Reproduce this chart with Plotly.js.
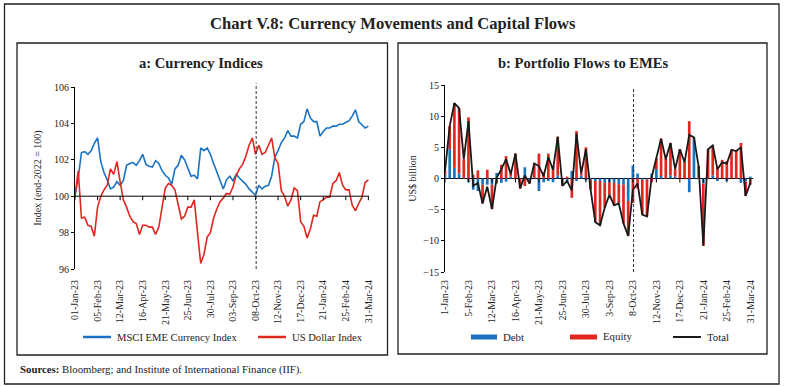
<!DOCTYPE html>
<html><head><meta charset="utf-8">
<script src="https://cdn.plot.ly/plotly-3.0.1.min.js"></script>
<style>html,body{margin:0;padding:0;background:#fff}#chart{width:785px;height:387px}</style>
</head><body><div id="chart"></div>
<script>
// ---------- Panel a: currency indices (end-2022 = 100) ----------
const fxDates = ['2023-01-01','2023-01-06','2023-01-11','2023-01-16','2023-01-21','2023-01-26','2023-01-31',
 '2023-02-05','2023-02-10','2023-02-15','2023-02-20','2023-02-25','2023-03-02','2023-03-07','2023-03-12',
 '2023-03-17','2023-03-22','2023-03-27','2023-04-01','2023-04-06','2023-04-11','2023-04-16','2023-04-21',
 '2023-04-26','2023-05-01','2023-05-06','2023-05-11','2023-05-16','2023-05-21','2023-05-26','2023-05-31',
 '2023-06-05','2023-06-10','2023-06-15','2023-06-20','2023-06-25','2023-06-30','2023-07-05','2023-07-10',
 '2023-07-15','2023-07-20','2023-07-25','2023-07-30','2023-08-04','2023-08-09','2023-08-14','2023-08-19',
 '2023-08-24','2023-08-29','2023-09-03','2023-09-08','2023-09-13','2023-09-18','2023-09-23','2023-09-28',
 '2023-10-03','2023-10-08','2023-10-13','2023-10-18','2023-10-23','2023-10-28','2023-11-02','2023-11-07',
 '2023-11-12','2023-11-17','2023-11-22','2023-11-27','2023-12-02','2023-12-07','2023-12-12','2023-12-17',
 '2023-12-22','2023-12-27','2024-01-01','2024-01-06','2024-01-11','2024-01-16','2024-01-21','2024-01-26',
 '2024-01-31','2024-02-05','2024-02-10','2024-02-15','2024-02-20','2024-02-25','2024-03-01','2024-03-06',
 '2024-03-11','2024-03-16','2024-03-21','2024-03-26','2024-03-31'];
const msciEme = [100.0,101.0,102.4,102.45,102.3,102.5,102.9,103.2,101.9,101.3,100.9,100.4,100.5,100.8,100.6,
 100.85,101.7,101.8,101.85,101.7,101.95,102.3,101.75,101.65,101.6,101.95,101.8,101.4,101.15,101.0,100.65,
 101.5,101.7,102.25,102.0,101.55,101.1,101.15,100.95,102.65,102.5,102.65,102.3,101.8,101.3,100.8,100.4,
 100.9,101.1,100.85,101.2,101.0,100.85,100.65,100.4,100.2,100.05,100.6,100.4,100.55,100.6,101.1,102.15,
 102.5,102.95,103.2,103.6,103.3,103.3,103.2,103.95,104.1,104.8,104.3,104.1,104.1,103.3,103.55,103.75,
 103.75,103.85,103.85,103.95,103.95,104.05,104.15,104.4,104.75,104.1,103.9,103.75,103.85];
const usDollar = [100.0,101.4,98.8,98.85,98.4,98.35,97.8,99.4,100.0,100.35,100.6,101.5,101.2,101.9,100.8,
 99.8,99.4,98.9,98.6,98.5,97.9,98.4,98.4,98.3,98.3,97.9,98.3,99.4,100.45,100.7,100.6,100.35,99.6,98.75,
 98.9,99.4,99.4,99.8,98.0,96.3,96.8,97.75,98.0,98.8,99.3,99.7,99.9,100.15,100.1,100.5,101.15,101.5,101.75,
 102.2,102.8,103.2,102.3,102.8,102.3,102.4,102.8,103.2,102.1,101.8,100.3,100.0,99.45,99.8,100.45,100.3,
 98.6,98.35,97.7,98.2,98.95,98.9,99.7,99.8,99.95,99.95,100.7,100.85,101.3,100.6,100.35,100.35,99.5,99.2,
 99.6,99.95,100.75,100.9];
const tickDates = ['2023-01-01','2023-02-05','2023-03-12','2023-04-16','2023-05-21','2023-06-25','2023-07-30',
 '2023-09-03','2023-10-08','2023-11-12','2023-12-17','2024-01-21','2024-02-25','2024-03-31'];
const fxTickText = ['01-Jan-23','05-Feb-23','12-Mar-23','16-Apr-23','21-May-23','25-Jun-23','30-Jul-23',
 '03-Sep-23','08-Oct-23','12-Nov-23','17-Dec-23','21-Jan-24','25-Feb-24','31-Mar-24'];

// ---------- Panel b: weekly portfolio flows to EMEs (US$ billion) ----------
const flowWeeks = ['2023-01-01','2023-01-08','2023-01-15','2023-01-22','2023-01-29','2023-02-05','2023-02-12',
 '2023-02-19','2023-02-26','2023-03-05','2023-03-12','2023-03-19','2023-03-26','2023-04-02','2023-04-09',
 '2023-04-16','2023-04-23','2023-04-30','2023-05-07','2023-05-14','2023-05-21','2023-05-28','2023-06-04',
 '2023-06-11','2023-06-18','2023-06-25','2023-07-02','2023-07-09','2023-07-16','2023-07-23','2023-07-30',
 '2023-08-06','2023-08-13','2023-08-20','2023-08-27','2023-09-03','2023-09-10','2023-09-17','2023-09-24',
 '2023-10-01','2023-10-08','2023-10-15','2023-10-22','2023-10-29','2023-11-05','2023-11-12','2023-11-19',
 '2023-11-26','2023-12-03','2023-12-10','2023-12-17','2023-12-24','2023-12-31','2024-01-07','2024-01-14',
 '2024-01-21','2024-01-28','2024-02-04','2024-02-11','2024-02-18','2024-02-25','2024-03-03','2024-03-10',
 '2024-03-17','2024-03-24','2024-03-31'];
const debtFlows = [0.6,4.7,1.7,0.8,0.1,-0.6,-1.8,-2.0,-1.0,-1.0,-1.0,0.9,-0.7,-0.5,0.3,0.0,-0.1,1.8,-0.3,0.1,
 -2.0,-0.6,-0.4,-0.6,0.5,-0.3,-0.7,1.2,-0.4,0.5,-0.3,-0.2,-0.4,-0.4,-0.7,-0.6,-0.7,-0.9,-1.0,-3.6,2.1,0.8,
 -0.2,-0.2,0.8,1.5,0.4,-0.1,0.5,0.3,0.0,0.0,-2.2,6.3,-0.1,-0.8,0.0,0.5,-0.4,0.0,-0.4,0.0,-0.1,-0.7,-0.5,0.3];
const equityFlows = [0.6,3.7,10.4,10.5,3.0,9.8,0.6,1.3,-3.0,1.4,-3.9,-0.8,2.2,3.6,0.5,4.0,-1.5,-1.2,-0.5,2.4,
 4.0,1.0,4.0,2.0,6.2,-0.9,0.3,-3.1,7.6,0.3,5.0,-1.6,-6.6,-7.1,-4.0,-2.0,-3.6,-3.1,-6.2,-5.6,-3.9,-1.6,-5.6,
 -5.9,-0.6,1.8,6.0,3.2,5.2,1.2,4.7,2.7,9.2,0.3,2.0,-10.0,4.7,4.8,1.9,3.0,2.8,4.6,4.5,5.7,-2.3,-1.0];
const totalFlows = [1.2,8.4,12.1,11.3,3.1,9.2,-1.2,-0.7,-4.0,-1.3,-4.9,0.1,1.5,3.1,0.7,4.0,-1.6,0.5,-0.8,2.4,
 2.0,0.4,3.4,1.4,6.7,-1.2,-0.4,-1.9,7.2,0.8,4.7,-1.8,-7.0,-7.5,-4.7,-2.6,-4.3,-4.0,-7.2,-9.2,-1.8,-0.8,-5.8,
 -6.1,0.2,3.3,6.4,3.1,5.7,1.5,4.7,2.6,7.0,6.6,1.9,-10.8,4.7,5.3,1.5,2.6,2.4,4.6,4.4,5.0,-2.8,-0.7];
const flowTickText = ['1-Jan-23','5-Feb-23','12-Mar-23','16-Apr-23','21-May-23','25-Jun-23','30-Jul-23',
 '3-Sep-23','8-Oct-23','12-Nov-23','17-Dec-23','21-Jan-24','25-Feb-24','31-Mar-24'];
const eventDate = '2023-10-09';

// ---------- styling ----------
const W = 785, H = 387;
const FONT = 'Liberation Serif, DejaVu Serif, serif';
const BLUE = '#1A72C0', RED = '#E0261E', INK = '#222';
const px = v => v / W, py = v => 1 - v / H;
const DAY = 86400000;

const traces = [
  {x: fxDates, y: msciEme, type: 'scatter', mode: 'lines', name: 'MSCI EME Currency Index',
   line: {color: BLUE, width: 1.6}, xaxis: 'x', yaxis: 'y', showlegend: false, hoverinfo: 'skip'},
  {x: fxDates, y: usDollar, type: 'scatter', mode: 'lines', name: 'US Dollar Index',
   line: {color: RED, width: 1.6}, xaxis: 'x', yaxis: 'y', showlegend: false, hoverinfo: 'skip'},
  {x: flowWeeks, y: debtFlows, type: 'bar', name: 'Debt', marker: {color: BLUE},
   width: 4 * DAY, xaxis: 'x2', yaxis: 'y2', showlegend: false, hoverinfo: 'skip'},
  {x: flowWeeks, y: equityFlows, type: 'bar', name: 'Equity', marker: {color: RED},
   width: 4 * DAY, xaxis: 'x2', yaxis: 'y2', showlegend: false, hoverinfo: 'skip'},
  {x: flowWeeks, y: totalFlows, type: 'scatter', mode: 'lines', name: 'Total',
   line: {color: '#1a1a1a', width: 1.8}, xaxis: 'x2', yaxis: 'y2', showlegend: false, hoverinfo: 'skip'}
];

const tickFont = {family: FONT, size: 10, color: INK};
const shapes = [];
// outer frame and panel boxes
shapes.push({type: 'rect', xref: 'paper', yref: 'paper', x0: px(4.5), x1: px(779), y0: py(384), y1: py(4), line: {color: '#222', width: 1.3}});
shapes.push({type: 'rect', xref: 'paper', yref: 'paper', x0: px(17), x1: px(387.5), y0: py(355), y1: py(43), line: {color: '#222', width: 1.3}});
shapes.push({type: 'rect', xref: 'paper', yref: 'paper', x0: px(398), x1: px(767), y0: py(354), y1: py(43), line: {color: '#222', width: 1.3}});
// baseline at 100 for panel a, with tick marks
shapes.push({type: 'line', xref: 'x domain', yref: 'y', x0: 0, x1: 1, y0: 100, y1: 100, line: {color: '#000', width: 1}});
tickDates.forEach(d => {
  shapes.push({type: 'line', xref: 'x', yref: 'y', ysizemode: 'pixel', yanchor: 100, x0: d, x1: d, y0: 0, y1: -4, line: {color: '#000', width: 1}});
  shapes.push({type: 'line', xref: 'x2', yref: 'y2', ysizemode: 'pixel', yanchor: 0, x0: d, x1: d, y0: 0, y1: -4, line: {color: '#000', width: 1}});
});
// event lines
shapes.push({type: 'line', xref: 'x', yref: 'y domain', x0: eventDate, x1: eventDate, y0: 0, y1: 1.02, line: {color: '#333', width: 1, dash: '3px,2px'}});
shapes.push({type: 'line', xref: 'x2', yref: 'y2 domain', x0: eventDate, x1: eventDate, y0: 0, y1: 0.985, line: {color: '#333', width: 1, dash: '3px,2px'}});
// legend keys
shapes.push({type: 'line', xref: 'paper', yref: 'paper', x0: px(83), x1: px(111), y0: py(337), y1: py(337), line: {color: BLUE, width: 2.5}});
shapes.push({type: 'line', xref: 'paper', yref: 'paper', x0: px(258), x1: px(286), y0: py(337), y1: py(337), line: {color: RED, width: 2.5}});
shapes.push({type: 'rect', xref: 'paper', yref: 'paper', x0: px(471), x1: px(497), y0: py(339.5), y1: py(334.5), fillcolor: BLUE, line: {width: 0}});
shapes.push({type: 'rect', xref: 'paper', yref: 'paper', x0: px(570), x1: px(597), y0: py(339.5), y1: py(334.5), fillcolor: RED, line: {width: 0}});
shapes.push({type: 'line', xref: 'paper', yref: 'paper', x0: px(673), x1: px(701), y0: py(337), y1: py(337), line: {color: '#1a1a1a', width: 2}});

const ann = (x, y, text, size, extra) => Object.assign({xref: 'paper', yref: 'paper', x: px(x), y: py(y), text: text,
  showarrow: false, font: {family: FONT, size: size, color: INK}, xanchor: 'center', yanchor: 'middle'}, extra || {});
const annotations = [
  ann(393, 23, '<b>Chart V.8: Currency Movements and Capital Flows</b>', 16.6),
  ann(201, 63, '<b>a: Currency Indices</b>', 14.6),
  ann(583, 63, '<b>b: Portfolio Flows to EMEs</b>', 14.6),
  ann(115, 337, 'MSCI EME Currency Index', 10.6, {xanchor: 'left'}),
  ann(290, 337, 'US Dollar Index', 10.6, {xanchor: 'left'}),
  ann(501, 337, 'Debt', 10.8, {xanchor: 'left'}),
  ann(601, 336, 'Equity', 10.8, {xanchor: 'left'}),
  ann(705, 337, 'Total', 10.8, {xanchor: 'left'}),
  ann(18, 369, '<b>Sources:</b> Bloomberg; and Institute of International Finance (IIF).', 10.8, {xanchor: 'left'})
];

const layout = {
  width: W, height: H, margin: {l: 0, r: 0, t: 0, b: 0},
  paper_bgcolor: '#fff', plot_bgcolor: '#fff', barmode: 'relative', showlegend: false,
  font: {family: FONT, color: INK},
  xaxis: {domain: [px(75), px(369)], anchor: 'y', type: 'date', range: ['2023-01-01', '2024-04-01'],
    tickmode: 'array', tickvals: tickDates, ticktext: fxTickText, tickangle: -90, ticks: '',
    showline: false, showgrid: false, zeroline: false, tickfont: tickFont, ticklabelstandoff: 8},
  yaxis: {domain: [py(269), py(87)], anchor: 'x', range: [96, 106], dtick: 2, showline: true, linecolor: '#000',
    linewidth: 1, ticks: 'outside', ticklen: 3, tickcolor: '#000', showgrid: false, zeroline: false, tickfont: tickFont,
    title: {text: 'Index (end-2022 = 100)', font: {family: FONT, size: 10, color: INK}, standoff: 10}},
  xaxis2: {domain: [px(445), px(753)], anchor: 'y2', type: 'date', range: ['2023-01-01', '2024-04-04'],
    tickmode: 'array', tickvals: tickDates, ticktext: flowTickText, tickangle: -90, ticks: '',
    showline: false, showgrid: false, zeroline: false, tickfont: tickFont, ticklabelstandoff: 5},
  yaxis2: {domain: [py(272), py(85)], anchor: 'x2', range: [-15, 15], dtick: 5, showline: true, linecolor: '#000',
    linewidth: 1, ticks: 'outside', ticklen: 3, tickcolor: '#000', showgrid: false, zeroline: true,
    zerolinecolor: '#000', zerolinewidth: 1, tickfont: tickFont,
    title: {text: 'US$ billion', font: {family: FONT, size: 10, color: INK}, standoff: 4}},
  shapes: shapes, annotations: annotations
};

Plotly.newPlot('chart', traces, layout, {displayModeBar: false, staticPlot: true});
</script></body></html>
